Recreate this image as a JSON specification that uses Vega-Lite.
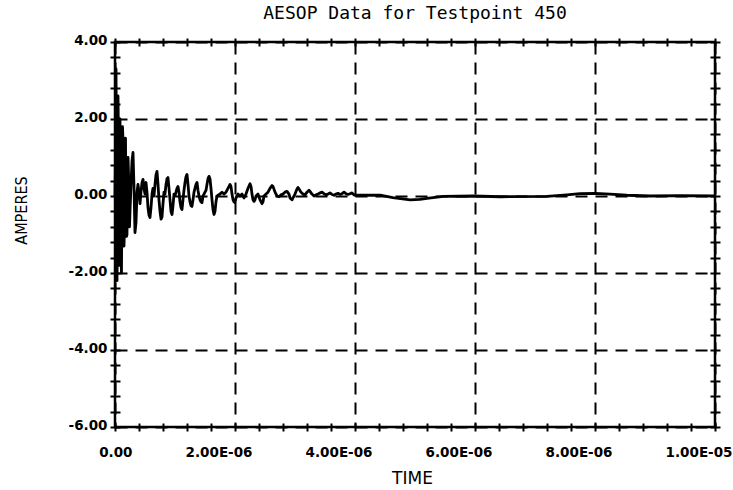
{
  "$schema": "https://vega.github.io/schema/vega-lite/v6.json",
  "width": 600,
  "height": 385,
  "autosize": "none",
  "padding": {"left": 115, "top": 42, "right": 18, "bottom": 63},
  "background": "white",
  "title": {"text": "AESOP Data for Testpoint 450", "font": "DejaVu Sans Mono", "fontSize": 18, "fontWeight": "normal", "color": "black", "anchor": "middle", "offset": 10},
  "config": {"view": {"stroke": "black", "strokeWidth": 2.5}},
  "data": {"values": [
    {"t":0,"a":0},{"t":0.008,"a":1.0},{"t":0.017,"a":3.3},{"t":0.025,"a":0.5},{"t":0.033,"a":-2.2},{"t":0.042,"a":-1.0},{"t":0.05,"a":2.6},{"t":0.058,"a":1.5},{"t":0.067,"a":-1.8},{"t":0.075,"a":-0.5},{"t":0.083,"a":2.0},{"t":0.092,"a":0.8},{"t":0.1,"a":-1.5},{"t":0.108,"a":-2.0},{"t":0.117,"a":0.3},{"t":0.125,"a":1.8},{"t":0.133,"a":1.47},{"t":0.142,"a":-0.5},{"t":0.15,"a":-1.3},{"t":0.158,"a":-0.8},{"t":0.167,"a":1.2},{"t":0.175,"a":1.5},{"t":0.183,"a":-0.3},{"t":0.192,"a":-1.05},{"t":0.2,"a":-1.0},{"t":0.208,"a":0.2},{"t":0.217,"a":1.0},{"t":0.225,"a":0.6},{"t":0.233,"a":-0.6},{"t":0.242,"a":-0.8},{"t":0.25,"a":-0.4},{"t":0.267,"a":0.3},{"t":0.283,"a":0.9},{"t":0.3,"a":1.13},{"t":0.317,"a":0.2},{"t":0.333,"a":-0.95},{"t":0.35,"a":-0.7},{"t":0.367,"a":0.1},{"t":0.383,"a":0.3},{"t":0.4,"a":0.1},{"t":0.417,"a":-0.2},{"t":0.433,"a":0.1},{"t":0.45,"a":0.35},{"t":0.467,"a":0.43},{"t":0.483,"a":0.2},{"t":0.5,"a":0.05},{"t":0.517,"a":0.35},{"t":0.533,"a":0.1},{"t":0.55,"a":-0.3},{"t":0.567,"a":-0.5},{"t":0.583,"a":-0.56},{"t":0.6,"a":-0.3},{"t":0.617,"a":0.05},{"t":0.633,"a":0.2},{"t":0.65,"a":0.0},{"t":0.667,"a":0.3},{"t":0.683,"a":0.55},{"t":0.7,"a":0.64},{"t":0.717,"a":0.3},{"t":0.733,"a":-0.1},{"t":0.75,"a":-0.4},{"t":0.767,"a":-0.6},{"t":0.783,"a":-0.55},{"t":0.8,"a":-0.2},{"t":0.817,"a":0.1},{"t":0.833,"a":0.05},{"t":0.85,"a":0.3},{"t":0.867,"a":0.45},{"t":0.883,"a":0.48},{"t":0.9,"a":0.2},{"t":0.917,"a":-0.1},{"t":0.933,"a":-0.4},{"t":0.95,"a":-0.48},{"t":0.967,"a":-0.25},{"t":0.983,"a":0.05},{"t":1.0,"a":0.0},{"t":1.017,"a":0.1},{"t":1.033,"a":0.2},{"t":1.05,"a":0.25},{"t":1.067,"a":0.1},{"t":1.083,"a":-0.15},{"t":1.1,"a":-0.3},{"t":1.117,"a":-0.35},{"t":1.133,"a":-0.1},{"t":1.15,"a":0.15},{"t":1.167,"a":0.35},{"t":1.183,"a":0.5},{"t":1.2,"a":0.56},{"t":1.217,"a":0.3},{"t":1.233,"a":0.0},{"t":1.25,"a":-0.15},{"t":1.267,"a":-0.25},{"t":1.283,"a":-0.27},{"t":1.3,"a":-0.1},{"t":1.317,"a":0.1},{"t":1.333,"a":0.2},{"t":1.35,"a":0.3},{"t":1.367,"a":0.35},{"t":1.383,"a":0.15},{"t":1.4,"a":0.0},{"t":1.417,"a":-0.1},{"t":1.433,"a":-0.15},{"t":1.45,"a":-0.17},{"t":1.467,"a":0.0},{"t":1.483,"a":0.05},{"t":1.5,"a":0.1},{"t":1.517,"a":0.15},{"t":1.533,"a":0.3},{"t":1.55,"a":0.45},{"t":1.567,"a":0.51},{"t":1.583,"a":0.45},{"t":1.6,"a":0.2},{"t":1.617,"a":-0.1},{"t":1.633,"a":-0.35},{"t":1.65,"a":-0.48},{"t":1.667,"a":-0.4},{"t":1.683,"a":-0.15},{"t":1.7,"a":0.0},{"t":1.717,"a":0.02},{"t":1.75,"a":0.05},{"t":1.783,"a":0.1},{"t":1.817,"a":0.05},{"t":1.85,"a":0.1},{"t":1.883,"a":0.2},{"t":1.917,"a":0.3},{"t":1.933,"a":0.25},{"t":1.95,"a":0.05},{"t":1.967,"a":-0.1},{"t":1.983,"a":-0.15},{"t":2.0,"a":-0.17},{"t":2.017,"a":-0.05},{"t":2.05,"a":0.05},{"t":2.083,"a":0.0},{"t":2.117,"a":0.05},{"t":2.15,"a":-0.05},{"t":2.183,"a":0.05},{"t":2.217,"a":0.2},{"t":2.25,"a":0.32},{"t":2.267,"a":0.25},{"t":2.283,"a":0.05},{"t":2.3,"a":-0.1},{"t":2.317,"a":-0.14},{"t":2.333,"a":-0.1},{"t":2.35,"a":0.0},{"t":2.383,"a":0.05},{"t":2.417,"a":-0.1},{"t":2.45,"a":-0.2},{"t":2.467,"a":-0.15},{"t":2.483,"a":0.0},{"t":2.517,"a":0.05},{"t":2.55,"a":0.1},{"t":2.583,"a":0.2},{"t":2.617,"a":0.27},{"t":2.633,"a":0.25},{"t":2.667,"a":0.1},{"t":2.7,"a":0.0},{"t":2.733,"a":-0.02},{"t":2.767,"a":0.03},{"t":2.8,"a":0.05},{"t":2.833,"a":0.1},{"t":2.867,"a":0.12},{"t":2.9,"a":0.05},{"t":2.917,"a":-0.05},{"t":2.95,"a":-0.1},{"t":2.967,"a":-0.05},{"t":3.0,"a":0.05},{"t":3.033,"a":0.18},{"t":3.05,"a":0.22},{"t":3.067,"a":0.18},{"t":3.1,"a":0.1},{"t":3.133,"a":0.05},{"t":3.167,"a":0.03},{"t":3.2,"a":0.1},{"t":3.233,"a":0.15},{"t":3.25,"a":0.12},{"t":3.283,"a":0.05},{"t":3.317,"a":0.0},{"t":3.35,"a":0.03},{"t":3.383,"a":0.05},{"t":3.417,"a":0.08},{"t":3.45,"a":0.1},{"t":3.483,"a":0.06},{"t":3.517,"a":0.03},{"t":3.55,"a":0.05},{"t":3.583,"a":0.08},{"t":3.617,"a":0.04},{"t":3.65,"a":0.02},{"t":3.683,"a":0.05},{"t":3.717,"a":0.07},{"t":3.75,"a":0.04},{"t":3.783,"a":0.06},{"t":3.817,"a":0.1},{"t":3.85,"a":0.06},{"t":3.883,"a":0.04},{"t":3.917,"a":0.06},{"t":3.95,"a":0.08},{"t":3.983,"a":0.03},{"t":4.0,"a":0.02},{"t":4.08,"a":0.02},{"t":4.42,"a":0.02},{"t":4.63,"a":-0.04},{"t":4.92,"a":-0.1},{"t":5.08,"a":-0.09},{"t":5.2,"a":-0.06},{"t":5.47,"a":-0.01},{"t":5.97,"a":0.0},{"t":6.42,"a":-0.02},{"t":7.2,"a":-0.01},{"t":7.53,"a":0.03},{"t":7.75,"a":0.06},{"t":8.0,"a":0.07},{"t":8.25,"a":0.05},{"t":8.53,"a":0.02},{"t":8.92,"a":0.0},{"t":9.42,"a":0.01},{"t":10.0,"a":0.0}
  ]},
  "layer": [
    {
      "mark": {"type": "line", "color": "black", "strokeWidth": 2.8, "strokeJoin": "round"},
      "encoding": {
        "x": {"field": "t", "type": "quantitative", "scale": {"domain": [0, 10], "nice": false, "zero": false},
          "axis": {"orient": "bottom", "values": [0, 2, 4, 6, 8, 10], "domain": false, "ticks": false, "grid": true, "gridColor": "black", "gridWidth": 2, "gridDash": [12, 8], "gridOpacity": 1,
            "labelExpr": "datum.value == 0 ? '0.00' : (datum.value == 10 ? '1.00E-05' : format(datum.value, '.2f') + 'E-06')",
            "labelFont": "DejaVu Sans", "labelFontWeight": "bold", "labelFontSize": 13.5, "labelColor": "black", "labelAlign": "right", "labelBaseline": "top", "labelOffset": 17, "labelPadding": 18, "labelFlush": false, "labelOverlap": false, "labelBound": false,
            "title": "TIME", "titleFont": "DejaVu Sans", "titleFontSize": 17, "titleFontWeight": "normal", "titleColor": "black", "titleBaseline": "alphabetic", "titleY": 56, "titleX": 297}},
        "y": {"field": "a", "type": "quantitative", "scale": {"domain": [-6, 4], "nice": false, "zero": false},
          "axis": {"orient": "left", "values": [-6, -4, -2, 0, 2, 4], "domain": false, "ticks": false, "grid": true, "gridColor": "black", "gridWidth": 2, "gridDash": [12, 8], "gridOpacity": 1,
            "labelExpr": "(datum.value < 0 ? '-' : '') + format(abs(datum.value), '.2f')",
            "labelFont": "DejaVu Sans", "labelFontWeight": "bold", "labelFontSize": 13.5, "labelColor": "black", "labelPadding": 8, "labelOffset": -2, "labelFlush": false, "labelOverlap": false, "labelBound": false,
            "title": "AMPERES", "titleFont": "Liberation Sans Narrow, DejaVu Sans Condensed, sans-serif", "titleFontSize": 16, "titleFontWeight": "normal", "titleColor": "black", "titleAngle": 270, "titleAlign": "center", "titleBaseline": "alphabetic", "titleX": -89, "titleY": 168}}
      }
    },
    {
      "mark": {"type": "line", "opacity": 0},
      "encoding": {
        "x": {"field": "t", "type": "quantitative", "axis": {"orient": "bottom", "values": [0,0.4,0.8,1.2,1.6,2,2.4,2.8,3.2,3.6,4,4.4,4.8,5.2,5.6,6,6.4,6.8,7.2,7.6,8,8.4,8.8,9.2,9.6,10], "labels": false, "domain": false, "grid": false, "ticks": true, "tickSize": 8, "offset": -4, "tickColor": "black", "tickWidth": 2, "title": null}},
        "y": {"field": "a", "type": "quantitative", "axis": {"orient": "left", "values": [-6,-5.6,-5.2,-4.8,-4.4,-4,-3.6,-3.2,-2.8,-2.4,-2,-1.6,-1.2,-0.8,-0.4,0,0.4,0.8,1.2,1.6,2,2.4,2.8,3.2,3.6,4], "labels": false, "domain": false, "grid": false, "ticks": true, "tickSize": 10, "offset": -5, "tickColor": "black", "tickWidth": 2, "title": null}}
      }
    },
    {
      "mark": {"type": "line", "opacity": 0},
      "encoding": {
        "x": {"field": "t", "type": "quantitative", "axis": {"orient": "top", "values": [0,0.4,0.8,1.2,1.6,2,2.4,2.8,3.2,3.6,4,4.4,4.8,5.2,5.6,6,6.4,6.8,7.2,7.6,8,8.4,8.8,9.2,9.6,10], "labels": false, "domain": false, "grid": false, "ticks": true, "tickSize": 8, "offset": -4, "tickColor": "black", "tickWidth": 2, "title": null}},
        "y": {"field": "a", "type": "quantitative", "axis": {"orient": "right", "values": [-6,-5.6,-5.2,-4.8,-4.4,-4,-3.6,-3.2,-2.8,-2.4,-2,-1.6,-1.2,-0.8,-0.4,0,0.4,0.8,1.2,1.6,2,2.4,2.8,3.2,3.6,4], "labels": false, "domain": false, "grid": false, "ticks": true, "tickSize": 10, "offset": -5, "tickColor": "black", "tickWidth": 2, "title": null}}
      }
    }
  ],
  "resolve": {"axis": {"x": "independent", "y": "independent"}}
}
